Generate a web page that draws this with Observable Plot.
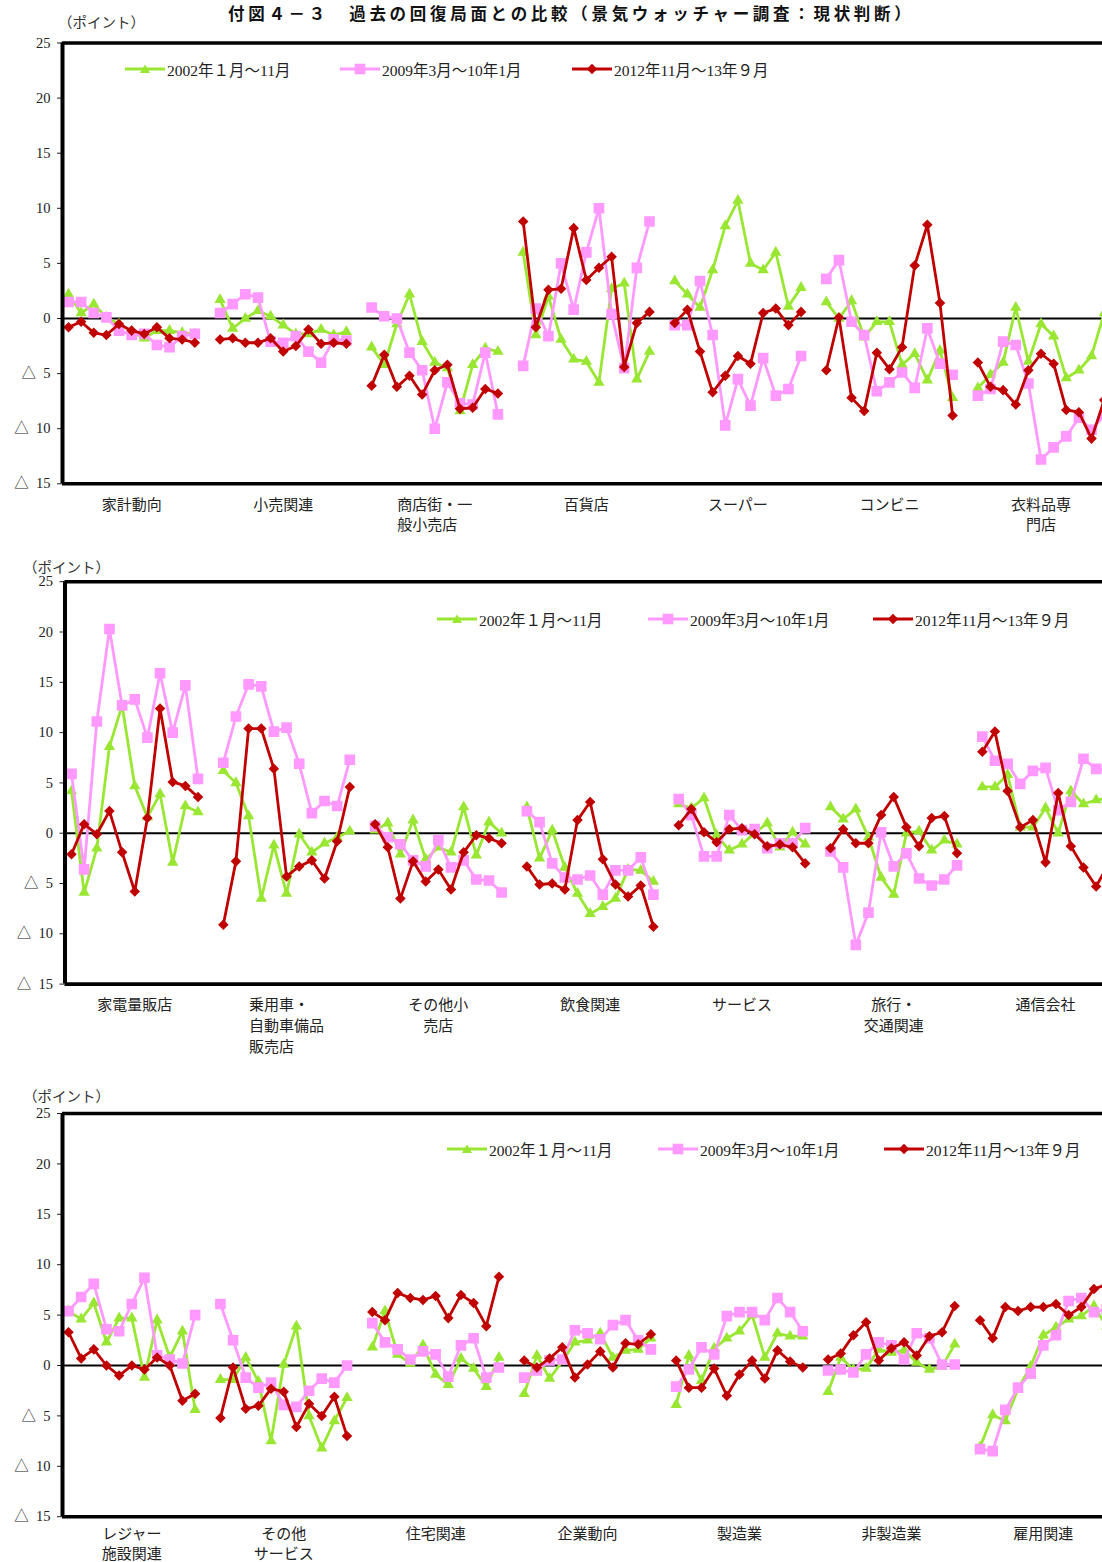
<!DOCTYPE html>
<html><head><meta charset="utf-8">
<script src="https://cdn.jsdelivr.net/npm/d3@7"></script>
<script src="https://cdn.jsdelivr.net/npm/@observablehq/plot@0.6"></script>
<style>
html,body{margin:0;padding:0;background:#fff;overflow:hidden;width:1102px;height:1562px;}
#root{position:relative;width:1102px;height:1562px;overflow:hidden;background:#fff;}
.abs{position:absolute;white-space:nowrap;}
.title{font-family:"Noto Sans CJK JP";font-weight:bold;font-size:16.5px;line-height:20px;letter-spacing:3.7px;color:#111;}
.unit{font-family:"Liberation Serif","Noto Sans CJK JP";font-size:14.5px;color:#333;}
.legend{font-family:"Liberation Serif","Noto Sans CJK JP";font-size:15.5px;color:#222;display:flex;align-items:center;}
.legend svg{display:block;margin-right:2px;}
</style></head><body><div id="root"></div>
<script>
// ---------- data ----------
const seriesNames = ["2002年１月～11月", "2009年3月～10年1月", "2012年11月～13年９月"];
const yTicks = [25, 20, 15, 10, 5, 0, -5, -10, -15];

const categories1 = ["家計動向", "小売関連", "商店街・一\n般小売店　", "百貨店", "スーパー", "コンビニ", "衣料品専\n門店"];
const p1_2002 = [
  [2.2, 0.5, 1.3, 0.1, -0.5, -1.2, -1.8, -1.1, -1.1, -1.3, -1.4],
  [1.7, -0.9, 0.0, 0.7, 0.2, -0.6, -1.4, -1.4, -1.0, -1.5, -1.2],
  [-2.6, -4.2, -0.5, 2.2, -2.1, -4.0, -4.5, -8.4, -4.2, -2.7, -3.0],
  [6.0, -1.5, 2.0, -1.9, -3.7, -3.9, -5.8, 2.7, 3.2, -5.5, -3.0],
  [3.4, 2.2, 1.0, 4.4, 8.4, 10.7, 5.0, 4.4, 6.0, 1.1, 2.8],
  [1.5, 0.0, 1.6, -1.7, -0.3, -0.3, -4.2, -3.2, -5.6, -2.9, -7.2],
  [-6.3, -5.1, -4.0, 1.0, -3.9, -0.5, -1.6, -5.4, -4.7, -3.4, 0.5]
];
const p1_2009 = [
  [1.5, 1.5, 0.5, 0.1, -1.1, -1.5, -1.4, -2.4, -2.6, -1.6, -1.4],
  [0.5, 1.3, 2.2, 1.9, -2.1, -2.2, -1.6, -3.0, -4.0, -1.9, -2.0],
  [1.0, 0.2, 0.0, -3.1, -4.7, -10.0, -5.8, -7.7, -7.8, -3.1, -8.7],
  [-4.3, 0.9, -1.6, 5.0, 0.8, 6.0, 10.0, 0.4, -4.5, 4.6, 8.8],
  [-0.6, -0.6, 3.4, -1.5, -9.7, -5.5, -7.9, -3.6, -7.0, -6.4, -3.4],
  [3.6, 5.3, -0.3, -1.5, -6.6, -5.8, -4.9, -6.3, -0.9, -4.1, -5.1],
  [-7.0, -6.4, -2.1, -2.4, -5.9, -12.8, -11.7, -10.7, -9.0, -10.1, -8.8]
];
const p1_2012 = [
  [-0.8, -0.3, -1.3, -1.5, -0.5, -1.1, -1.4, -0.8, -1.8, -1.9, -2.2],
  [-1.9, -1.8, -2.2, -2.2, -1.8, -3.0, -2.5, -1.0, -2.3, -2.2, -2.3],
  [-6.1, -3.3, -6.2, -5.2, -6.9, -4.7, -4.2, -8.2, -8.1, -6.4, -6.8],
  [8.8, -0.8, 2.6, 2.7, 8.2, 3.5, 4.6, 5.6, -4.4, -0.4, 0.6],
  [-0.4, 0.8, -3.0, -6.7, -5.2, -3.4, -4.1, 0.5, 0.9, -0.6, 0.6],
  [-4.7, 0.1, -7.2, -8.4, -3.1, -4.6, -2.6, 4.8, 8.5, 1.4, -8.8],
  [-4.0, -6.2, -6.5, -7.8, -4.7, -3.2, -4.1, -8.3, -8.5, -10.9, -7.4]
];

const categories2 = ["家電量販店", "乗用車・　\n自動車備品\n販売店　　", "その他小\n売店", "飲食関連", "サービス", "旅行・\n交通関連", "通信会社"];
const p2_2002 = [
  [4.2, -5.9, -1.5, 8.6, 12.7, 4.7, 1.6, 3.9, -2.9, 2.7, 2.1],
  [6.2, 5.0, 1.7, -6.5, -1.2, -6.0, -0.1, -1.9, -1.0, -0.4, 0.2],
  [0.3, 1.0, -2.1, 1.3, -2.6, -1.4, -1.9, 2.6, -2.2, 1.1, 0.0],
  [2.6, -2.5, 0.3, -3.4, -6.0, -8.0, -7.3, -6.5, -3.6, -3.7, -4.8],
  [2.9, 2.5, 3.5, -0.2, -1.7, -1.1, 0.0, 1.0, -1.4, 0.1, -1.1],
  [2.6, 1.4, 2.4, -0.4, -4.4, -6.1, 0.0, 0.2, -1.7, -0.7, -1.1],
  [4.6, 4.6, 5.8, 0.6, 0.6, 2.5, 0.0, 4.2, 2.9, 3.3, 3.5]
];
const p2_2009 = [
  [5.9, -3.6, 11.1, 20.3, 12.7, 13.3, 9.5, 15.9, 10.0, 14.7, 5.4],
  [7.0, 11.6, 14.8, 14.6, 10.1, 10.5, 6.9, 2.0, 3.2, 2.7, 7.3],
  [0.7, -0.4, -1.1, -2.7, -3.3, -0.7, -3.4, -2.7, -4.6, -4.7, -5.9],
  [2.2, 1.1, -3.0, -4.4, -4.6, -4.2, -6.1, -3.7, -3.7, -2.4, -6.1],
  [3.4, 1.8, -2.3, -2.3, 1.8, 0.3, 0.4, -1.5, -1.0, -1.0, 0.5],
  [-1.8, -3.4, -11.1, -7.9, 0.1, -3.3, -2.0, -4.5, -5.2, -4.6, -3.2],
  [9.6, 7.2, 6.9, 4.9, 6.2, 6.5, 2.3, 3.1, 7.4, 6.4, 6.2]
];
const p2_2012 = [
  [-2.1, 0.9, -0.1, 2.2, -1.9, -5.8, 1.5, 12.4, 5.1, 4.7, 3.6],
  [-9.1, -2.8, 10.4, 10.4, 6.4, -4.3, -3.3, -2.7, -4.5, -0.8, 4.6],
  [0.9, -1.4, -6.5, -2.8, -4.8, -3.6, -5.6, -1.9, -0.2, -0.5, -1.0],
  [-3.3, -5.1, -5.0, -5.6, 1.3, 3.1, -2.6, -5.1, -6.3, -5.2, -9.3],
  [0.8, 2.4, 0.1, -0.9, 0.4, 0.5, -0.1, -1.3, -1.1, -1.4, -3.0],
  [-1.5, 0.4, -1.0, -1.0, 1.8, 3.6, 0.6, -1.3, 1.5, 1.7, -2.0],
  [8.1, 10.1, 4.2, 0.6, 1.3, -2.9, 4.0, -1.3, -3.4, -5.3, -3.0]
];

const categories3 = ["レジャー\n施設関連", "その他\nサービス", "住宅関連", "企業動向", "製造業", "非製造業", "雇用関連"];
const p3_2002 = [
  [5.4, 4.6, 6.2, 2.3, 4.7, 4.7, -1.2, 4.5, 0.8, 3.4, -4.4],
  [-1.4, -1.4, 0.8, -1.6, -7.5, 0.1, 3.9, -5.0, -8.2, -5.5, -3.2],
  [1.8, 5.4, 1.1, 0.2, 2.0, -0.9, -1.9, 0.7, -0.3, -2.1, 0.8],
  [-2.8, 1.0, -1.3, 0.4, 2.3, 2.5, 3.2, 0.8, 1.5, 1.6, 2.7],
  [-3.9, 1.0, -1.5, 1.7, 2.7, 3.4, 5.0, 0.8, 3.2, 2.9, 2.9],
  [-2.6, 0.8, -0.4, -0.3, 1.6, 1.3, 1.5, 0.3, -0.4, -0.1, 2.1],
  [-8.1, -4.9, -5.5, -2.3, -0.1, 3.0, 3.8, 4.6, 4.9, 5.9, 3.9]
];
const p3_2009 = [
  [5.4, 6.8, 8.1, 3.6, 3.4, 6.1, 8.7, 1.0, 0.6, 0.2, 5.0],
  [6.1, 2.5, -1.2, -2.2, -1.7, -3.9, -4.1, -2.5, -1.3, -1.7, 0.0],
  [4.2, 2.3, 1.6, 0.6, 1.4, 1.1, -1.1, 2.0, 2.7, -1.2, -0.2],
  [-1.2, -0.5, 0.5, 0.6, 3.5, 3.2, 2.6, 4.0, 4.5, 2.5, 1.6],
  [-2.1, -0.4, 1.8, 1.1, 4.9, 5.3, 5.3, 4.5, 6.7, 5.3, 3.4],
  [-0.5, -0.4, -0.7, 1.1, 2.3, 2.0, 0.6, 3.2, 2.7, 0.1, 0.1],
  [-8.3, -8.5, -4.4, -2.2, -0.8, 2.0, 3.0, 6.4, 6.7, 5.3, 5.6]
];
const p3_2012 = [
  [3.3, 0.7, 1.6, 0.0, -1.0, 0.0, -0.4, 0.8, 0.0, -3.5, -2.8],
  [-5.2, -0.2, -4.3, -4.0, -2.3, -2.6, -6.1, -3.8, -5.0, -3.1, -7.0],
  [5.3, 4.5, 7.2, 6.7, 6.5, 6.9, 4.7, 7.0, 6.2, 3.9, 8.8],
  [0.5, -0.2, 0.7, 1.8, -1.2, 0.1, 1.4, -0.2, 2.2, 2.1, 3.1],
  [0.5, -2.2, -2.2, -0.3, -3.0, -0.9, 0.5, -1.3, 1.5, 0.4, -0.2],
  [0.6, 1.2, 3.0, 4.3, 0.5, 1.7, 2.3, 1.0, 2.9, 3.3, 5.9],
  [4.5, 2.7, 5.8, 5.4, 5.8, 5.8, 6.1, 5.0, 5.8, 7.6, 8.0]
];

// ---------- styles ----------
const COLORS = ["#99e633", "#ff99ff", "#c00000"];
const SLOTS = 12; // 11 months + 1 gap per category
const FONT = "'Liberation Serif','Noto Sans CJK JP',serif";

const root = document.getElementById("root");
function addDiv(cls, left, top, html) {
  const d = document.createElement("div");
  d.className = "abs " + cls;
  d.style.left = left + "px"; d.style.top = top + "px";
  d.innerHTML = html;
  root.appendChild(d);
  return d;
}

function legendSymbol(k) {
  const c = COLORS[k];
  let m;
  if (k === 0) m = `<path d="M20,5.5 L25,14 L15,14 Z" fill="${c}"/>`;
  else if (k === 1) m = `<rect x="14.7" y="4.7" width="10.6" height="10.6" fill="${c}"/>`;
  else m = `<rect x="16.3" y="6.3" width="7.4" height="7.4" fill="${c}" transform="rotate(45 20 10)"/>`;
  return `<svg width="40" height="20"><line x1="0" y1="10" x2="40" y2="10" stroke="${c}" stroke-width="2.8"/>${m}</svg>`;
}
function addLegend(top, lefts) {
  seriesNames.forEach((n, k) => {
    addDiv("legend", lefts[k], top, legendSymbol(k) + `<span>${n}</span>`);
  });
}

const fmt = d => d < 0 ? "△\u2002" + (-d) : String(d);

function panel(cfg) {
  const data = [];
  cfg.series.forEach((vals, s) => vals.forEach((arr, c) => arr.forEach((v, i) =>
    data.push({s, c, x: c * SLOTS + i, y: v}))));
  const bySeries = k => data.filter(d => d.s === k);
  const marks = [
    Plot.axisY({ticks: yTicks, tickFormat: fmt, tickSize: 5, tickPadding: 7, label: null, fontSize: 14.5}),
    Plot.ruleY([0], {stroke: "black", strokeWidth: 2})
  ];
  const sym = [{symbol: "triangle", r: 4.2}, {symbol: "square", r: 6}, {symbol: "square", r: 4.2, rotate: 45}];
  [0, 1, 2].forEach(k => {
    marks.push(Plot.line(bySeries(k), {x: "x", y: "y", z: "c", stroke: COLORS[k], strokeWidth: 2.8, strokeLinejoin: "round", clip: true}));
    marks.push(Plot.dot(bySeries(k), {x: "x", y: "y", fill: COLORS[k], stroke: "none", clip: true, ...sym[k]}));
  });
  marks.push(Plot.ruleY([yTicks[0], yTicks[yTicks.length - 1]], {stroke: "black", strokeWidth: 3.6}));
  marks.push(Plot.ruleX([cfg.x0], {stroke: "black", strokeWidth: 4, y1: yTicks[0], y2: yTicks[yTicks.length - 1]}));
  marks.push(Plot.text(cfg.categories, {
    x: (d, i) => i * SLOTS + 5, frameAnchor: "bottom", dy: cfg.dy, lineAnchor: "top",
    lineHeight: cfg.lh, fontSize: 15, fill: "#222", fontFamily: "'Noto Sans CJK JP'"
  }));
  const svg = Plot.plot({
    width: 1102, height: cfg.height,
    marginLeft: cfg.left, marginRight: 0, marginTop: cfg.mt, marginBottom: cfg.mb,
    x: {domain: [cfg.x0, cfg.x1], axis: null},
    y: {domain: [yTicks[yTicks.length - 1], yTicks[0]]},
    style: {fontFamily: FONT, fontSize: "14.5px", color: "#222", background: "transparent", overflow: "hidden"},
    marks
  });
  const wrap = document.createElement("div");
  wrap.className = "abs";
  wrap.style.left = "0px"; wrap.style.top = cfg.top + "px";
  wrap.appendChild(svg);
  root.appendChild(wrap);
}

// Panel 1
panel({top: 0, height: 545, mt: 42.5, mb: 545 - 483.3, left: 62,
  x0: (62 - 68) / 12.63, x1: (1102 - 68) / 12.63, dy: 12, lh: 1.35,
  categories: categories1, series: [p1_2002, p1_2009, p1_2012]});
// Panel 2
panel({top: 545, height: 515, mt: 36.2, mb: 545 + 515 - 983.6, left: 64.5,
  x0: (64.5 - 71) / 12.65, x1: (1102 - 71) / 12.65, dy: 11, lh: 1.4,
  categories: categories2, series: [p2_2002, p2_2009, p2_2012]});
// Panel 3
panel({top: 1070, height: 492, mt: 43, mb: 1562 - 1516.2, left: 62,
  x0: (62 - 68) / 12.66, x1: (1102 - 68) / 12.66, dy: 9, lh: 1.28,
  categories: categories3, series: [p3_2002, p3_2009, p3_2012]});

// Titles / units / legends
addDiv("title", 228, 3, "付図４－３　過去の回復局面との比較（景気ウォッチャー調査：現状判断）");
addDiv("unit", 58, 11, "（ポイント）");
addDiv("unit", 23, 556, "（ポイント）");
addDiv("unit", 23, 1085, "（ポイント）");
addLegend(58, [125, 340, 572]);
addLegend(608, [437, 648, 873]);
addLegend(1138, [447, 658, 884]);
</script>
</body></html>
